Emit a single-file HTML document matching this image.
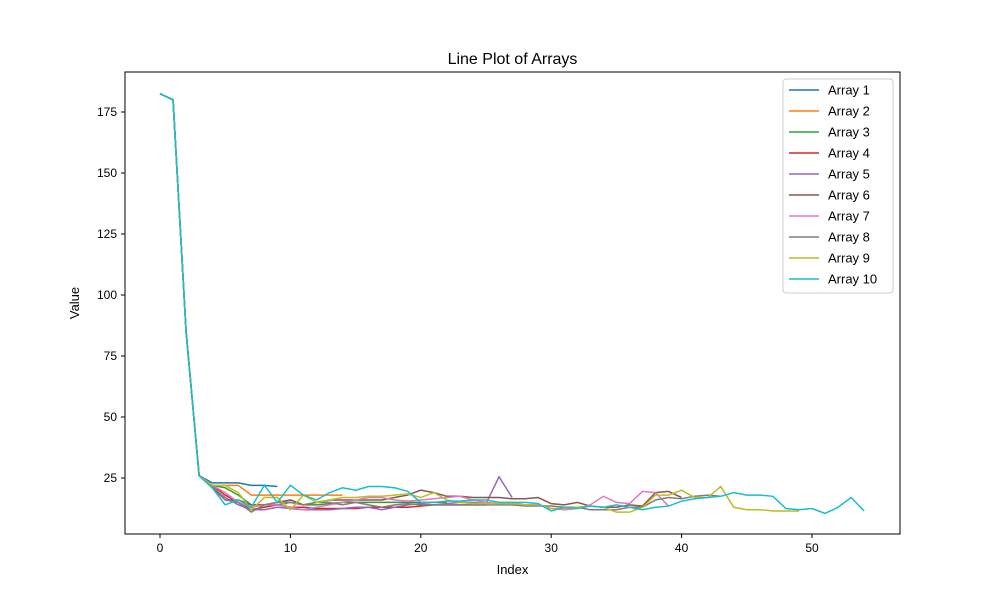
<!DOCTYPE html>
<html><head><meta charset="utf-8"><style>
body{margin:0;background:#fff;font-family:"Liberation Sans",sans-serif}
text{font-family:"Liberation Sans",sans-serif}
</style></head><body>
<svg id="chart" width="1000" height="600" xmlns="http://www.w3.org/2000/svg">
<rect width="1000" height="600" fill="#fff"/>
<g id="plot"></g>
<rect x="125" y="72" width="775" height="462" fill="none" stroke="#000" stroke-width="1"/>
<g id="axes" font-size="12" fill="#000"></g>
<text x="512.5" y="64" text-anchor="middle" font-size="16">Line Plot of Arrays</text>
<text x="512.5" y="574" text-anchor="middle" font-size="13">Index</text>
<text transform="translate(79,303) rotate(-90)" text-anchor="middle" font-size="13">Value</text>
<g id="legend"></g>
</svg>
<script>
const head=[182.5,180,85,26];
const a1=[23,23,23,22,22,21.5];
const a2=[22,22,22,18,18,18,18,18,18,18,18];
const a3=[22,21,18,14,14,14,15,14,14,14.5,15,15,15,15,15,15,15,15,15];
const a4=[22,18,15,12,13,14,13,13,12.5,12.5,12.5,12.5,13,13,13,13,13.5,14,14,14,14,14];
const a5=[21,17,14,12,12,13,12.5,12,12,12,12.5,13,13,12,13,14,14.5,14,14.5,15,15,14.5,25.5,17];
const a6=[21,16,16,14,14,15,16,14,15,16,16,16,16,16,17,18,20,19,17.5,17.5,17,17,17,16.5,16.5,17,14.5,14,15,13.5,13,13,14,13.5,19,19.5,17];
const a7=[22,19,15,13,14,14,13,12,13,14,15,16,17,17,16,15.5,16,16.5,17,17.5,16,15,14.5,15,14,14,12.5,12,12.5,14,17.5,15,14.5,19.5,19,13.5];
const a8=[22,16,15,11,14,15,15,14,15,15,14,15,14,13,14,14.5,14,14,14,14,14,14,14,14,13.5,13.5,13.5,13,13,12,12,12,13,13,16,17,16.5,17.5,18,17.5];
const a9=[22,22,19,12,17,17,12,18,15,16,17,17,17.5,17.5,18,18.5,17,19,16,15,14.5,14.5,14.5,14.5,14,14,12.5,12.5,13,13.5,13,11,11,13,18,18,20,17,17,21.5,13,12,12,11.5,11.5,11.5];
const a10=[21,14,16,13,22,15,22,18,16,19,21,20,21.5,21.5,21,19.5,15,15,15.5,15.5,16,16,15,15,15,14.5,11.5,13,12.5,13.5,13,14,13,12,13,13.5,15.5,16.5,17,17.5,19,18,18,17.5,12.5,12,12.5,10.5,13,17,11.5];
const series=[head.concat(a1),head.concat(a2),head.concat(a3),head.concat(a4),head.concat(a5),head.concat(a6),head.concat(a7),head.concat(a8),head.concat(a9),head.concat(a10)];
const names=["Array 1","Array 2","Array 3","Array 4","Array 5","Array 6","Array 7","Array 8","Array 9","Array 10"];
const colors=["#1f77b4","#ff7f0e","#2ca02c","#d62728","#9467bd","#8c564b","#e377c2","#7f7f7f","#bcbd22","#17becf"];
const xTicks=[0,10,20,30,40,50];
const yTicks=[25,50,75,100,125,150,175];
const NS="http://www.w3.org/2000/svg";
const X=v=>160+v*13.04;
const Y=v=>478-(v-25)*2.44;
const plot=document.getElementById('plot');
series.forEach((s,i)=>{
  const p=document.createElementNS(NS,'polyline');
  p.setAttribute('points',s.map((v,j)=>X(j)+','+Y(v)).join(' '));
  p.setAttribute('fill','none');p.setAttribute('stroke',colors[i]);p.setAttribute('stroke-width','1.5');
  
  
  plot.appendChild(p);
});
const axes=document.getElementById('axes');
xTicks.forEach(t=>{
  const l=document.createElementNS(NS,'line');
  l.setAttribute('x1',X(t));l.setAttribute('x2',X(t));l.setAttribute('y1',534);l.setAttribute('y2',538);l.setAttribute('stroke','#000');
  
  
  axes.appendChild(l);
  const tx=document.createElementNS(NS,'text');
  tx.setAttribute('x',X(t));tx.setAttribute('y',552);tx.setAttribute('text-anchor','middle');tx.textContent=t;
  
  
  axes.appendChild(tx);
});
yTicks.forEach(t=>{
  const l=document.createElementNS(NS,'line');
  l.setAttribute('x1',121);l.setAttribute('x2',125);l.setAttribute('y1',Y(t));l.setAttribute('y2',Y(t));l.setAttribute('stroke','#000');
  
  
  axes.appendChild(l);
  const tx=document.createElementNS(NS,'text');
  tx.setAttribute('x',117);tx.setAttribute('y',Y(t)+4);tx.setAttribute('text-anchor','end');tx.textContent=t;
  
  
  axes.appendChild(tx);
});
const lg=document.getElementById('legend');
const box=document.createElementNS(NS,'rect');
box.setAttribute('x',783);box.setAttribute('y',79);box.setAttribute('width',110);box.setAttribute('height',214);box.setAttribute('rx',3);
box.setAttribute('fill','#fff');box.setAttribute('fill-opacity','0.8');box.setAttribute('stroke','#ccc');


lg.appendChild(box);
names.forEach((n,i)=>{
  const y=90+i*21;
  const g=document.createElementNS(NS,'g');
  
  
  const l=document.createElementNS(NS,'line');
  l.setAttribute('x1',789);l.setAttribute('x2',819);l.setAttribute('y1',y);l.setAttribute('y2',y);l.setAttribute('stroke',colors[i]);l.setAttribute('stroke-width','1.5');
  g.appendChild(l);
  const t=document.createElementNS(NS,'text');
  t.setAttribute('x',828);t.setAttribute('y',y+4.5);t.setAttribute('font-size','13');t.textContent=n;
  g.appendChild(t);
  lg.appendChild(g);
});
</script>
</body></html>
